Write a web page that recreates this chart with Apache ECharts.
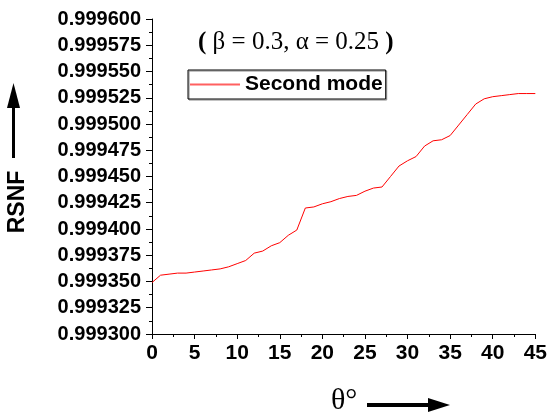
<!DOCTYPE html>
<html>
<head>
<meta charset="utf-8">
<script src="https://cdn.jsdelivr.net/npm/echarts@6/dist/echarts.min.js"></script>
<style>
  html, body { margin: 0; padding: 0; background: #fff; }
  #chart { width: 550px; height: 420px; }
</style>
</head>
<body>
<div id="chart"></div>
<script>
// theta in degrees
const theta = [0, 1, 2, 3, 4, 5, 6, 7, 8, 9, 10, 11, 12, 13, 14, 15, 16, 17, 18, 19, 20, 21, 22,
  23, 24, 25, 26, 27, 28, 29, 30, 31, 32, 33, 34, 35, 36, 37, 38, 39, 40, 41, 42, 43, 44, 45]
// RSNF, second mode
const secondMode = [0.999349, 0.999356, 0.999357, 0.999358, 0.999358, 0.999359, 0.999360, 0.999361,
  0.999362, 0.999364, 0.999367, 0.999370, 0.999377, 0.999379, 0.999384, 0.999387, 0.999394,
  0.999399, 0.999420, 0.999421, 0.999424, 0.999426, 0.999429, 0.999431, 0.999432, 0.999436,
  0.999439, 0.999440, 0.999450, 0.999460, 0.999465, 0.999469, 0.999479, 0.999484, 0.999485,
  0.999489, 0.999499, 0.999509, 0.999519, 0.999524, 0.999526, 0.999527, 0.999528, 0.999529,
  0.999529, 0.999529]
const seriesName = 'Second mode'

const chart = echarts.init(document.getElementById('chart'))
const bold = 'Liberation Sans'

chart.setOption({
  animation: false,
  grid: { left: 152, right: 11, top: 19, bottom: 86 },
  legend: {
    data: [{ name: seriesName, icon: 'rect', itemStyle: { color: '#ff6060' } }],
    left: 188,
    top: 70,
    orient: 'horizontal',
    itemWidth: 50,
    itemHeight: 2,
    padding: [4, 3, 4, 2],
    borderColor: '#000',
    borderWidth: 1,
    shadowColor: '#888',
    shadowOffsetX: 1,
    shadowOffsetY: 1,
    textStyle: { fontFamily: bold, fontWeight: 'bold', fontSize: 21, color: '#000', lineHeight: 21 }
  },
  xAxis: {
    type: 'value',
    min: 0,
    max: 45,
    interval: 5,
    axisLine: { lineStyle: { color: '#000', width: 1 } },
    axisTick: { length: 5, lineStyle: { color: '#000' } },
    minorTick: { show: true, splitNumber: 2, length: 3, lineStyle: { color: '#000' } },
    splitLine: { show: false },
    axisLabel: { margin: 9, fontFamily: bold, fontWeight: 'bold', fontSize: 21, color: '#000' }
  },
  yAxis: {
    type: 'value',
    min: 0.9993,
    max: 0.9996,
    interval: 0.000025,
    axisLine: { show: true, lineStyle: { color: '#000', width: 1 } },
    axisTick: { show: true, length: 6, lineStyle: { color: '#000' } },
    minorTick: { show: true, splitNumber: 2, length: 3, lineStyle: { color: '#000' } },
    splitLine: { show: false },
    axisLabel: {
      margin: 11,
      fontFamily: bold, fontWeight: 'bold', fontSize: 20, color: '#000',
      formatter: v => v.toFixed(6)
    }
  },
  series: [{
    name: seriesName,
    type: 'line',
    symbol: 'none',
    data: theta.map((t, i) => [t, secondMode[i]]),
    lineStyle: { color: '#ff0000', width: 1 },
    itemStyle: { color: '#ff0000' }
  }],
  graphic: [
    // title
    {
      type: 'text', left: 198, top: 30,
      style: {
        text: '{p|(} β = 0.3, α = 0.25 {p|)}',
        font: '25px "Liberation Serif"', fill: '#000',
        rich: { p: { font: 'bold 25px "Liberation Serif"', fill: '#000' } }
      }
    },
    // y-axis name + arrow
    {
      type: 'text', x: 18, y: 202, rotation: Math.PI / 2,
      style: {
        text: 'RSNF', font: 'bold 23px "Liberation Sans"', fill: '#000',
        align: 'center', verticalAlign: 'middle'
      }
    },
    { type: 'line', shape: { x1: 13.5, y1: 158, x2: 13.5, y2: 100 }, style: { stroke: '#000', lineWidth: 3 } },
    { type: 'polygon', shape: { points: [[13.5, 83], [7, 108], [20, 108]] }, style: { fill: '#000' } },
    // x-axis name + arrow
    {
      type: 'text', left: 331, top: 386,
      style: { text: 'θ°', font: '30px "Liberation Serif"', fill: '#000' }
    },
    { type: 'line', shape: { x1: 367, y1: 405, x2: 432, y2: 405 }, style: { stroke: '#000', lineWidth: 4 } },
    { type: 'polygon', shape: { points: [[450, 405], [428, 398], [428, 412]] }, style: { fill: '#000' } }
  ]
})
</script>
</body>
</html>
